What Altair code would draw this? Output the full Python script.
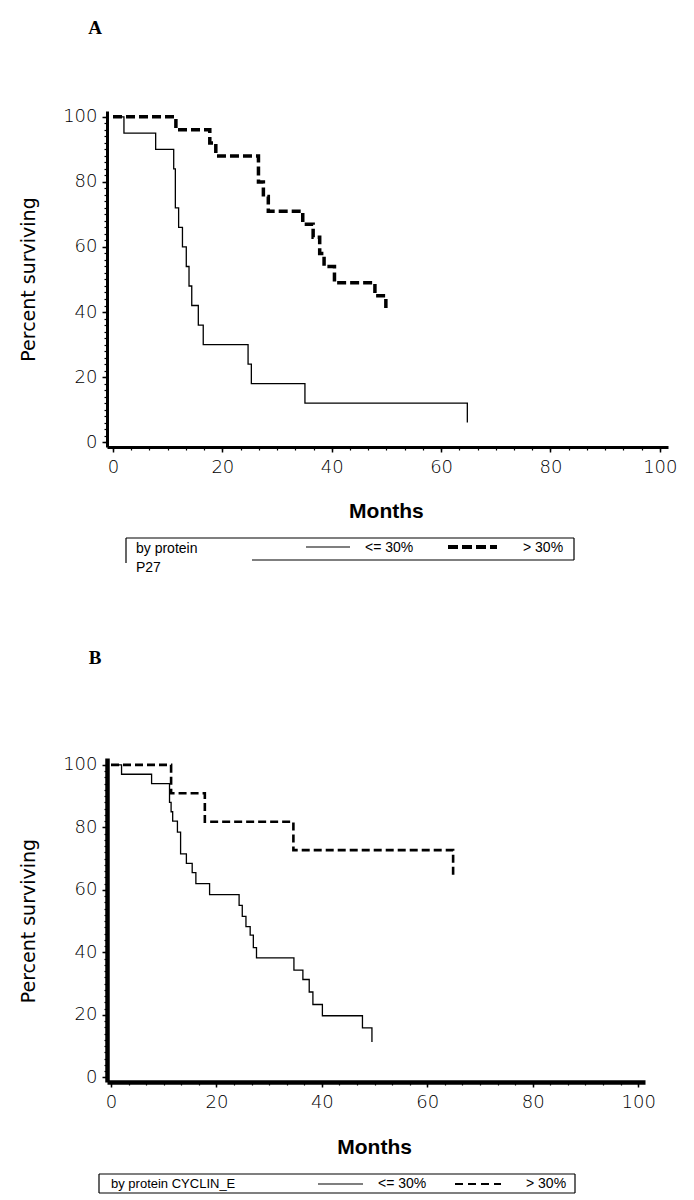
import altair as alt
import pandas as pd

# ---------------- data ----------------
# Panel A : by protein P27
a_low_months = [0, 2.0, 7.8, 11.1, 11.4, 12.0, 12.7, 13.4, 13.9, 14.4, 15.6, 16.5, 24.7, 25.3, 35.1, 64.8]
a_low_pct = [100, 95, 90, 84, 72, 66, 60, 54, 48, 42, 36, 30, 24, 18, 12, 6]
a_high_months = [0, 11.5, 17.7, 18.8, 26.6, 27.5, 28.4, 34.7, 36.6, 37.8, 38.6, 40.5, 47.9, 49.9]
a_high_pct = [100, 96, 92, 88, 80, 75.5, 71, 67, 63, 58, 54, 49, 45, 40]

# Panel B : by protein CYCLIN_E
b_low_months = [0, 2.0, 7.7, 11.1, 11.4, 11.7, 12.6, 13.2, 14.3, 15.4, 16.1, 18.7, 24.3, 24.9,
                25.6, 26.4, 27.0, 27.6, 34.7, 36.4, 37.6, 38.3, 40.1, 47.7, 49.5]
b_low_pct = [100, 97, 94, 88, 85, 82, 78.5, 71.5, 68.5, 65.5, 62, 58.5, 55, 51.5,
             48.2, 45.5, 41.5, 38.2, 34.3, 31.3, 27.3, 23.3, 19.7, 15.8, 11.3]
b_high_months = [0, 11.4, 17.8, 34.6, 64.9]
b_high_pct = [100, 90.9, 81.8, 72.7, 63.6]

x_ticks = [0, 20, 40, 60, 80, 100]
y_ticks = [0, 20, 40, 60, 80, 100]
x_minor = [round(k * 20 / 6, 4) for k in range(31)]
y_minor = list(range(0, 101, 2))

x_title = "Months"
y_title = "Percent surviving"
low_label = "<= 30%"
high_label = "> 30%"

LABEL_FONT = "DejaVu Sans"


def txt(s, x, y, size, font="Liberation Sans", weight="normal", align="left", angle=0):
    return alt.Chart(pd.DataFrame({"t": [s]})).mark_text(
        font=font, fontSize=size, fontWeight=weight, align=align, baseline="middle",
        angle=angle, color="black"
    ).encode(text="t:N", x=alt.value(x), y=alt.value(y))


def rule(x1, y1, x2, y2, w=1.2, dash=None):
    kw = dict(color="black", strokeWidth=w)
    if dash:
        kw["strokeDash"] = dash
    return alt.Chart(pd.DataFrame({"k": [0]})).mark_rule(**kw).encode(
        x=alt.value(x1), x2=alt.value(x2), y=alt.value(y1), y2=alt.value(y2))


def panel(low_t, low_s, high_t, high_s, xdom, ydom, w, h, axis_w, dash_w, dash_pat,
          letter, letter_pos, legend_layers, months_y):
    df_low = pd.DataFrame({"m": low_t, "p": low_s})
    df_high = pd.DataFrame({"m": high_t, "p": high_s})
    xs = alt.Scale(domain=xdom, nice=False, zero=False)
    ys = alt.Scale(domain=ydom, nice=False, zero=False)

    common = dict(grid=False, title=None, domainColor="black", tickColor="black",
                  labelColor="black", labelFont=LABEL_FONT, labelFontSize=18,
                  labelFontWeight=200, labelFlush=False, labelOverlap=False)
    xa = alt.Axis(values=x_ticks, orient="bottom", domainWidth=axis_w, tickSize=5,
                  tickWidth=1.5, labelPadding=6, **common)
    ya = alt.Axis(values=y_ticks, orient="left", domainWidth=axis_w, tickSize=5,
                  tickWidth=1.5, labelPadding=5, **common)
    xm = alt.Axis(values=x_minor, orient="bottom", domain=False, labels=False, grid=False,
                  title=None, tickSize=3, tickWidth=1.2, tickColor="black")
    ym = alt.Axis(values=y_minor, orient="left", domain=False, labels=False, grid=False,
                  title=None, tickSize=3, tickWidth=1.2, tickColor="black")

    low = alt.Chart(df_low).mark_line(interpolate="step-after", color="black",
                                      strokeWidth=1.3).encode(
        x=alt.X("m:Q", scale=xs, axis=xa), y=alt.Y("p:Q", scale=ys, axis=ya))
    high = alt.Chart(df_high).mark_line(interpolate="step-after", color="black",
                                        strokeWidth=dash_w, strokeDash=dash_pat).encode(
        x=alt.X("m:Q", scale=xs, axis=None), y=alt.Y("p:Q", scale=ys, axis=None))
    minor = alt.Chart(df_low).mark_point(opacity=0).encode(
        x=alt.X("m:Q", scale=xs, axis=xm), y=alt.Y("p:Q", scale=ys, axis=ym))

    x50 = (50 - xdom[0]) / (xdom[1] - xdom[0]) * w
    y50 = (ydom[1] - 50) / (ydom[1] - ydom[0]) * h
    layers = [minor, low, high,
              txt(letter, letter_pos[0], letter_pos[1], 19, font="Liberation Serif",
                  weight="bold", align="center"),
              txt(x_title, x50, months_y, 21, font="Liberation Sans", weight="bold",
                  align="center"),
              txt(y_title, -78, y50, 19, font=LABEL_FONT, align="center", angle=270)]
    layers += legend_layers
    return alt.layer(*layers).resolve_axis(x="independent", y="independent").properties(
        width=w, height=h)


# legend for panel A (positions relative to plot origin)
legend_a = [
    rule(19, 427, 467, 427),
    rule(467, 427, 467, 449),
    rule(145, 449, 467, 449),
    rule(19, 427, 19, 452),
    txt("by protein", 29, 438, 14),
    txt("P27", 29, 457, 14),
    rule(199, 436, 243, 436, w=1.2),
    txt(low_label, 258, 437, 14),
    rule(341, 436, 390, 436, w=4, dash=[10, 4]),
    txt(high_label, 416, 437, 14),
]

legend_b = [
    rule(-8, 416, 468, 416),
    rule(468, 416, 468, 435),
    rule(-8, 435, 468, 435),
    rule(-8, 416, -8, 435),
    txt("by protein CYCLIN_E", 4, 426, 13),
    rule(211, 426, 256, 426, w=1.2),
    txt(low_label, 271, 426, 14),
    rule(348, 426, 394, 426, w=2.2, dash=[8, 5]),
    txt(high_label, 419, 426, 14),
]

chart_a = panel(a_low_months, a_low_pct, a_high_months, a_high_pct,
                [-1.1, 101.5], [-1.5, 101.8], 561, 336, 3, 3.5, [9, 4],
                "A", (-12, -83), legend_a, 401)
chart_b = panel(b_low_months, b_low_pct, b_high_months, b_high_pct,
                [-0.76, 101.3], [-1.5, 102.2], 538, 324, 4.5, 2.6, [8, 4],
                "B", (-12, -100), legend_b, 390)

chart = alt.vconcat(chart_a, chart_b, spacing=74).properties(
    padding={"left": 11, "top": 11, "right": 0, "bottom": 0}
).configure_view(stroke=None)

chart.save("out.html", embed_options={"renderer": "svg", "actions": False})
